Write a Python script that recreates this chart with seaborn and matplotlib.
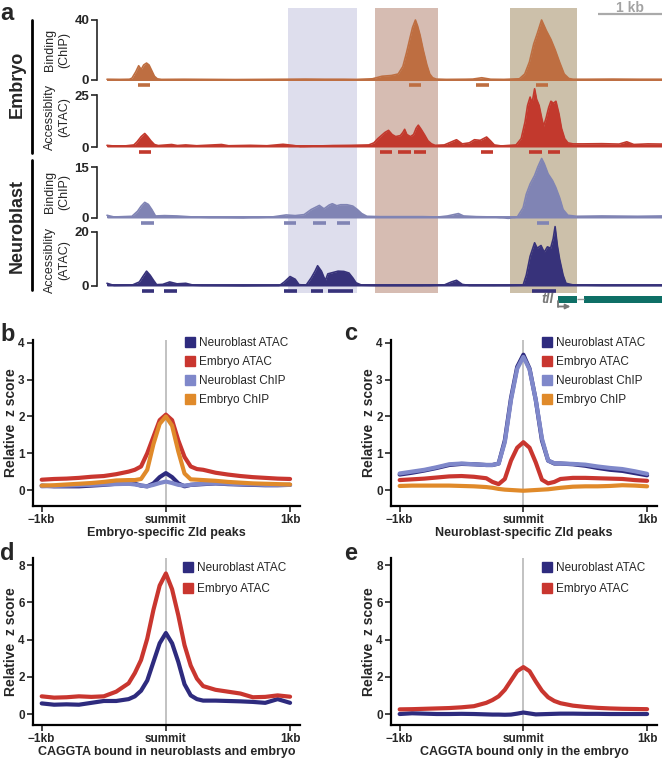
import numpy as np
import pandas as pd
import seaborn as sns
import matplotlib.pyplot as plt
from matplotlib.lines import Line2D
from matplotlib.patches import Rectangle

sns.set_theme(style="ticks")
plt.rcParams['font.family'] = ['Liberation Sans', 'DejaVu Sans']

W, H = 662, 758

# ---------------- panel a : browser tracks (position in kb) ----------------
EMB_CHIP_POS = [0.00, 0.20, 0.35, 0.39, 0.45, 0.495, 0.534, 0.573, 0.618, 0.657,
                0.702, 0.741, 0.786, 0.85, 1.2, 1.6, 2.0, 2.4, 2.8, 3.1,
                3.4, 3.7, 3.9, 4.146, 4.297, 4.443, 4.549, 4.622, 4.678, 4.728,
                4.773, 4.818, 4.852, 4.89, 4.94, 4.997, 5.042, 5.087, 5.143, 5.3,
                5.6, 5.714, 5.854, 5.994, 6.2, 6.442, 6.526, 6.599, 6.666, 6.722,
                6.789, 6.862, 6.935, 7.002, 7.069, 7.142, 7.215, 7.282, 7.5, 7.9,
                8.3, 8.67]
EMB_CHIP_VAL = [0.5, 0.4, 0.5, 1.2, 5.5, 9.5, 7.0, 10.0, 11.3, 10.0,
                6.0, 2.5, 0.8, 0.4, 0.5, 0.4, 0.3, 0.4, 0.5, 0.6,
                0.5, 0.5, 0.4, 0.8, 2.5, 3.0, 4.0, 9.0, 18.0, 27.0,
                35.0, 40.0, 36.0, 30.0, 20.0, 10.0, 4.0, 1.5, 0.6, 0.4,
                0.5, 0.6, 1.5, 0.5, 0.4, 0.8, 4.0, 12.0, 24.0, 31.0,
                40.0, 33.0, 27.0, 20.0, 12.0, 4.0, 1.0, 0.5, 0.5, 0.6,
                0.5, 0.5]

EMB_ATAC_POS = [0.00, 0.10, 0.25, 0.42, 0.47, 0.534, 0.59, 0.635, 0.685, 0.741,
                0.80, 1.01, 1.10, 1.23, 1.40, 1.79, 1.90, 2.24, 2.50, 2.75,
                2.90, 3.03, 3.30, 3.53, 3.81, 4.09, 4.17, 4.23, 4.286, 4.342,
                4.398, 4.454, 4.51, 4.583, 4.622, 4.65, 4.684, 4.74, 4.79, 4.829,
                4.863, 4.908, 4.958, 5.014, 5.07, 5.126, 5.27, 5.46, 5.55, 5.66,
                5.74, 5.83, 5.93, 5.99, 6.05, 6.16, 6.39, 6.47, 6.53, 6.57,
                6.61, 6.64, 6.68, 6.71, 6.75, 6.79, 6.82, 6.86, 6.90, 6.935,
                6.974, 7.013, 7.06, 7.10, 7.15, 7.20, 7.28, 7.45, 7.73, 8.00,
                8.12, 8.23, 8.45, 8.67]
EMB_ATAC_VAL = [0.8, 0.5, 0.4, 1.0, 2.5, 5.0, 6.5, 5.0, 3.0, 1.2,
                0.7, 1.2, 0.7, 1.0, 0.6, 1.2, 0.6, 0.8, 0.6, 1.3,
                0.8, 0.2, 0.5, 0.7, 0.8, 1.0, 2.0, 4.0, 5.5, 7.0,
                8.0, 6.0, 5.0, 5.5, 7.0, 8.5, 6.0, 5.0, 6.0, 9.0,
                10.5, 8.5, 6.0, 3.0, 1.5, 0.8, 1.0, 3.5, 1.5, 2.0,
                3.5, 3.2, 4.8, 3.0, 1.0, 0.5, 1.0, 4.0, 12.0, 20.0,
                24.0, 21.0, 28.0, 23.0, 20.0, 14.0, 10.0, 14.0, 19.0, 22.0,
                21.0, 22.0, 16.0, 9.0, 4.0, 2.0, 1.5, 1.5, 1.6, 1.4,
                2.5, 1.2, 1.5, 1.4]

NB_CHIP_POS = [0.00, 0.11, 0.39, 0.478, 0.534, 0.59, 0.646, 0.70, 0.758, 0.898,
               1.094, 1.346, 1.68, 2.13, 2.58, 2.80, 2.94, 3.08, 3.19, 3.317,
               3.39, 3.47, 3.52, 3.59, 3.65, 3.75, 3.84, 3.91, 3.98, 4.06,
               4.26, 4.65, 4.93, 5.18, 5.32, 5.49, 5.57, 5.77, 6.05, 6.27,
               6.41, 6.50, 6.55, 6.61, 6.68, 6.73, 6.79, 6.83, 6.89, 6.96,
               7.01, 7.07, 7.125, 7.20, 7.34, 7.73, 8.29, 8.67]
NB_CHIP_VAL = [0.8, 0.3, 0.5, 2.0, 3.5, 4.6, 4.0, 2.5, 0.6, 0.7,
               0.6, 0.3, 0.1, 0.0, 0.3, 0.9, 0.7, 1.0, 2.5, 3.7,
               2.7, 3.8, 4.2, 3.6, 3.9, 3.9, 3.5, 2.5, 1.3, 0.5,
               0.4, 0.4, 0.4, 0.3, 0.6, 1.3, 0.6, 0.4, 0.3, -0.1,
               0.3, 3.0, 7.0, 10.0, 12.5, 15.0, 17.5, 16.0, 13.0, 11.0,
               9.0, 6.0, 2.5, 0.8, 0.5, 0.6, 0.5, 0.6]

NB_ATAC_POS = [0.00, 0.11, 0.39, 0.506, 0.56, 0.618, 0.674, 0.73, 0.775, 0.87,
               0.98, 1.094, 1.23, 1.35, 1.57, 2.13, 2.69, 2.77, 2.86, 2.94,
               3.00, 3.11, 3.19, 3.25, 3.29, 3.35, 3.41, 3.45, 3.53, 3.61,
               3.70, 3.78, 3.84, 3.89, 3.98, 4.37, 4.93, 5.27, 5.38, 5.46,
               5.55, 5.66, 6.05, 6.50, 6.55, 6.61, 6.68, 6.72, 6.78, 6.83,
               6.88, 6.93, 6.97, 7.00, 7.035, 7.07, 7.125, 7.17, 7.28, 7.73,
               8.67]
NB_ATAC_VAL = [1.0, 0.2, 0.3, 1.5, 3.5, 5.5, 4.0, 2.0, 0.5, 0.6,
               1.5, 0.8, 1.0, 0.3, 0.1, 0.0, 0.1, 1.5, 3.5, 2.5,
               0.5, 0.3, 3.0, 5.5, 7.5, 5.5, 2.0, 4.5, 5.0, 5.5,
               5.4, 4.8, 3.0, 1.2, 0.3, 0.1, 0.1, 0.4, 1.5, 2.1,
               0.6, 0.2, 0.1, 0.3, 4.0, 11.0, 16.0, 14.0, 15.0, 12.5,
               14.5, 14.0, 17.5, 22.0, 15.0, 10.0, 4.0, 1.0, 0.4, 0.2,
               0.2]

# called peaks (start, end) in kb
EMB_CHIP_PEAKS = [(0.478, 0.674), (4.717, 4.913), (5.77, 5.966), (6.694, 6.89)]
EMB_ATAC_PEAKS = [(0.495, 0.69), (4.26, 4.45), (4.55, 4.75), (4.79, 4.99),
                  (5.84, 6.03), (6.60, 6.79), (6.89, 7.07)]
NB_CHIP_PEAKS = [(0.534, 0.73), (2.76, 2.96), (3.22, 3.42), (3.60, 3.79), (6.71, 6.90)]
NB_ATAC_PEAKS = [(0.545, 0.74), (0.898, 1.088), (2.76, 2.97), (3.18, 3.38),
                 (3.45, 3.84), (6.64, 7.02)]

HIGHLIGHT_START = [2.83, 4.19, 6.30]
HIGHLIGHT_END = [3.91, 5.17, 7.34]
HIGHLIGHT_COLORS = ['#DEDEED', '#D6BCB2', '#CCC0AA']

TLL_EXONS = [(7.05, 7.34), (7.45, 8.67)]
REGION_END = 8.67
SCALE_KB = 1.0

# ---------------- panels b-e : meta profiles ----------------
POS = [-1.0, -0.9, -0.8, -0.7, -0.6, -0.5, -0.4, -0.3, -0.25, -0.2, -0.15, -0.1, -0.05,
       0.0, 0.05, 0.1, 0.15, 0.2, 0.25, 0.3, 0.4, 0.5, 0.6, 0.7, 0.8, 0.9, 1.0]

B_NB_ATAC = [0.12, 0.10, 0.10, 0.10, 0.12, 0.14, 0.17, 0.18, 0.17, 0.12, 0.10, 0.18, 0.35,
             0.46, 0.35, 0.18, 0.10, 0.14, 0.15, 0.16, 0.18, 0.16, 0.15, 0.14, 0.13, 0.13, 0.14]
B_EMB_ATAC = [0.28, 0.30, 0.31, 0.33, 0.36, 0.38, 0.43, 0.50, 0.55, 0.64, 1.00, 1.45, 1.90,
              2.05, 1.90, 1.35, 0.90, 0.64, 0.57, 0.55, 0.47, 0.42, 0.38, 0.35, 0.33, 0.31, 0.30]
B_NB_CHIP = [0.10, 0.11, 0.12, 0.13, 0.14, 0.15, 0.16, 0.17, 0.15, 0.12, 0.10, 0.14, 0.19,
             0.23, 0.19, 0.14, 0.12, 0.14, 0.16, 0.17, 0.18, 0.17, 0.16, 0.15, 0.14, 0.14, 0.14]
B_EMB_CHIP = [0.12, 0.13, 0.15, 0.17, 0.19, 0.22, 0.26, 0.27, 0.27, 0.30, 0.55, 1.25, 1.80,
              2.00, 1.75, 1.05, 0.45, 0.29, 0.28, 0.27, 0.25, 0.22, 0.20, 0.18, 0.17, 0.16, 0.15]

C_NB_ATAC = [0.42, 0.47, 0.53, 0.60, 0.68, 0.71, 0.70, 0.68, 0.68, 0.72, 1.35, 2.50, 3.35,
             3.68, 3.30, 2.45, 1.35, 0.80, 0.72, 0.72, 0.70, 0.66, 0.60, 0.55, 0.52, 0.46, 0.40]
C_EMB_ATAC = [0.27, 0.29, 0.31, 0.34, 0.37, 0.38, 0.36, 0.32, 0.22, 0.16, 0.30, 0.80, 1.15,
              1.30, 1.15, 0.75, 0.28, 0.18, 0.22, 0.30, 0.33, 0.33, 0.32, 0.31, 0.30, 0.27, 0.25]
C_NB_CHIP = [0.45, 0.50, 0.55, 0.62, 0.70, 0.72, 0.70, 0.68, 0.68, 0.72, 1.30, 2.45, 3.30,
             3.62, 3.28, 2.45, 1.40, 0.80, 0.73, 0.72, 0.71, 0.69, 0.64, 0.60, 0.57, 0.51, 0.44]
C_EMB_CHIP = [0.11, 0.12, 0.12, 0.12, 0.12, 0.11, 0.10, 0.08, 0.06, 0.03, 0.01, 0.00, -0.01,
              -0.02, -0.01, 0.00, 0.01, 0.02, 0.04, 0.06, 0.09, 0.10, 0.10, 0.11, 0.13, 0.12, 0.10]

D_NB_ATAC = [0.57, 0.50, 0.52, 0.50, 0.60, 0.70, 0.70, 0.80, 0.95, 1.25, 1.80, 2.80, 3.80,
             4.35, 3.80, 2.80, 1.60, 1.00, 0.80, 0.72, 0.72, 0.70, 0.68, 0.65, 0.60, 0.80, 0.60]
D_EMB_ATAC = [0.95, 0.88, 0.90, 0.95, 0.92, 0.95, 1.20, 1.65, 2.20, 2.90, 4.05, 5.60, 6.90,
              7.55, 6.70, 5.30, 3.70, 2.60, 1.90, 1.50, 1.30, 1.20, 1.10, 0.90, 0.92, 1.00, 0.93]

E_NB_ATAC = [0.00, 0.04, 0.02, 0.00, 0.00, 0.01, 0.00, -0.02, -0.03, -0.03, -0.04, -0.03, 0.02,
             0.08, 0.03, -0.02, -0.01, 0.00, 0.01, 0.02, 0.02, 0.01, 0.01, 0.00, 0.00, 0.00, 0.00]
E_EMB_ATAC = [0.25, 0.26, 0.28, 0.30, 0.32, 0.36, 0.42, 0.60, 0.75, 0.95, 1.30, 1.80, 2.30,
              2.52, 2.30, 1.75, 1.25, 0.90, 0.70, 0.58, 0.45, 0.38, 0.33, 0.30, 0.28, 0.27, 0.26]

PROFILE_COLORS = {'Neuroblast ATAC': '#2E2B7E', 'Embryo ATAC': '#C9362F',
                  'Neuroblast ChIP': '#7F88CA', 'Embryo ChIP': '#E08A2A'}
TRACK_COLORS = {'emb_chip': '#BE6E41', 'emb_atac': '#C2392D',
                'nb_chip': '#8084B4', 'nb_atac': '#37327A'}


def fx(px):
    return px / W


def fy(px):
    return 1 - px / H


fig = plt.figure(figsize=(W / 100, H / 100), dpi=100)

# background axes for the highlighted regions, gene model and scale bar (y in pixels)
ax_bg = fig.add_axes([fx(97), fy(312), fx(662) - fx(97), fy(5) - fy(312)])
ax_bg.set_xlim(-0.156, REGION_END)
ax_bg.set_ylim(312, 5)
ax_bg.axis('off')
for s, e, c in zip(HIGHLIGHT_START, HIGHLIGHT_END, HIGHLIGHT_COLORS):
    ax_bg.fill_between([s, e], 8, 293, color=c, lw=0)

# gene model
for s, e in TLL_EXONS:
    ax_bg.add_patch(Rectangle((s, 296), e - s, 6.5, color='#0E6F66', lw=0))
ax_bg.hlines(299.2, TLL_EXONS[0][1], TLL_EXONS[1][0], color='#9a9a9a', lw=1)
ax_bg.plot([TLL_EXONS[0][0], TLL_EXONS[0][0]], [301, 306.5], color='#777777', lw=1.3)
ax_bg.annotate('', xy=(TLL_EXONS[0][0] + 0.19, 306.5), xytext=(TLL_EXONS[0][0], 306.5),
               arrowprops=dict(arrowstyle='-|>', color='#777777', lw=1.3, mutation_scale=7,
                               shrinkA=0, shrinkB=0))
ax_bg.text(TLL_EXONS[0][0] - 0.07, 299, 'tll', ha='right', va='center', style='italic',
           weight='bold', color='#7a7a7a', fontsize=10)

# scale bar
ax_bg.hlines(14, REGION_END - SCALE_KB, REGION_END, color='#aaaaaa', lw=1.6)
ax_bg.text(REGION_END - SCALE_KB / 2, 7.5, '1 kb', ha='center', va='center',
           color='#a3a3a3', fontsize=10, weight='bold')


def add_track(pos, val, peaks, color, vmax, px_top, px_bottom, px_zero, px_max):
    ppu = (px_zero - px_max) / vmax
    ax = fig.add_axes([fx(97), fy(px_bottom), fx(662) - fx(97), fy(px_top) - fy(px_bottom)])
    ax.patch.set_alpha(0)
    ax.set_xlim(-0.156, REGION_END)
    ax.set_ylim(-(px_bottom - px_zero) / ppu, (px_zero - px_top) / ppu)
    ax.fill_between(pos, 0, val, color=color, lw=0)
    ax.plot(pos, val, color=color, lw=1.2)
    ax.hlines(0.25, pos[0], pos[-1], color=color, lw=1.4)
    for s, e in peaks:
        ax.hlines(-5 / ppu, s, e, color=color, lw=2.6)
    for side in ['top', 'right', 'bottom']:
        ax.spines[side].set_visible(False)
    ax.spines['left'].set_bounds(0, vmax)
    ax.spines['left'].set_linewidth(1.2)
    ax.set_xticks([])
    ax.set_yticks([0, vmax])
    ax.tick_params(axis='y', length=4, width=1.2, pad=1.5)
    for lab in ax.get_yticklabels():
        lab.set_fontweight('bold')
        lab.set_fontsize(9.5)
    return ax


add_track(EMB_CHIP_POS, EMB_CHIP_VAL, EMB_CHIP_PEAKS, TRACK_COLORS['emb_chip'], 40, 14, 90, 80, 20)
add_track(EMB_ATAC_POS, EMB_ATAC_VAL, EMB_ATAC_PEAKS, TRACK_COLORS['emb_atac'], 25, 86, 157, 147, 95)
add_track(NB_CHIP_POS, NB_CHIP_VAL, NB_CHIP_PEAKS, TRACK_COLORS['nb_chip'], 15, 155, 227, 218, 167)
add_track(NB_ATAC_POS, NB_ATAC_VAL, NB_ATAC_PEAKS, TRACK_COLORS['nb_atac'], 20, 224, 295, 286, 232)

# left side labels for panel a
fig.text(fx(17), fy(84), 'Embryo', rotation=90, ha='center', va='center', fontsize=13, weight='bold')
fig.text(fx(17), fy(226), 'Neuroblast', rotation=90, ha='center', va='center', fontsize=13, weight='bold')
fig.add_artist(Line2D([fx(32), fx(32)], [fy(20), fy(153)], color='black', lw=2))
fig.add_artist(Line2D([fx(32), fx(32)], [fy(160), fy(290)], color='black', lw=2))
for yc, txt in [(50, 'Binding\n(ChIP)'), (117, 'Accessiblity\n(ATAC)'),
                (192, 'Binding\n(ChIP)'), (260, 'Accessiblity\n(ATAC)')]:
    fig.text(fx(57), fy(yc), txt, rotation=90, ha='center', va='center', fontsize=9,
             linespacing=1.3, multialignment='center')


def profile(rect, series, ylim, yticks, xlabel, legend_xy, spacing):
    ax = fig.add_axes([fx(rect[0]), fy(rect[3]), fx(rect[2]) - fx(rect[0]), fy(rect[1]) - fy(rect[3])])
    names = list(series.keys())
    df = pd.DataFrame({'pos': POS * len(names),
                       'z': [v for n in names for v in series[n]],
                       'track': [n for n in names for _ in POS]})
    ax.axvline(0, color='#bdbdbd', lw=1.3, zorder=0)
    sns.lineplot(data=df, x='pos', y='z', hue='track', hue_order=names, palette=PROFILE_COLORS,
                 lw=3, legend=False, ax=ax, errorbar=None, solid_capstyle='round',
                 solid_joinstyle='round')
    ax.set_xlim(-1.07, 1.08)
    ax.set_ylim(*ylim)
    ax.set_xticks([-1, 0, 1])
    ax.set_xticklabels(['\u22121kb', 'summit', '1kb'])
    ax.set_yticks(yticks)
    ax.set_xlabel(xlabel, fontsize=9, weight='bold', labelpad=0.5)
    ax.set_ylabel('Relative  z score', fontsize=10, weight='bold', labelpad=0)
    for side in ['top', 'right']:
        ax.spines[side].set_visible(False)
    for side in ['left', 'bottom']:
        ax.spines[side].set_linewidth(1.6)
        ax.spines[side].set_color('black')
    ax.tick_params(length=4, width=1.2, pad=2, labelsize=8.5)
    for lab in ax.get_xticklabels() + ax.get_yticklabels():
        lab.set_fontweight('bold')
    handles = [Line2D([], [], marker='s', ls='', ms=7.5, color=PROFILE_COLORS[n]) for n in names]
    ax.legend(handles, names, loc='upper left', bbox_to_anchor=(fx(legend_xy[0]), fy(legend_xy[1])),
              bbox_transform=fig.transFigure, frameon=False, fontsize=8.5, borderpad=0,
              borderaxespad=0, handletextpad=0.3, handlelength=0.9, labelspacing=spacing)
    return ax


profile((33, 340, 300, 506),
        {'Neuroblast ATAC': B_NB_ATAC, 'Embryo ATAC': B_EMB_ATAC,
         'Neuroblast ChIP': B_NB_CHIP, 'Embryo ChIP': B_EMB_CHIP},
        (-0.435, 4.08), [0, 1, 2, 3, 4], 'Embryo-specific Zld peaks', (185, 337), 0.6)
profile((391, 340, 657, 506),
        {'Neuroblast ATAC': C_NB_ATAC, 'Embryo ATAC': C_EMB_ATAC,
         'Neuroblast ChIP': C_NB_CHIP, 'Embryo ChIP': C_EMB_CHIP},
        (-0.435, 4.08), [0, 1, 2, 3, 4], 'Neuroblast-specific Zld peaks', (542, 337), 0.6)
profile((33, 558, 300, 725),
        {'Neuroblast ATAC': D_NB_ATAC, 'Embryo ATAC': D_EMB_ATAC},
        (-0.59, 8.38), [0, 2, 4, 6, 8], 'CAGGTA bound in neuroblasts and embryo', (183, 562), 0.8)
profile((391, 558, 657, 725),
        {'Neuroblast ATAC': E_NB_ATAC, 'Embryo ATAC': E_EMB_ATAC},
        (-0.59, 8.38), [0, 2, 4, 6, 8], 'CAGGTA bound only in the embryo', (542, 562), 0.8)

# panel letters
for x, y, letter in [(0, 20, 'a'), (0, 341, 'b'), (344, 340, 'c'), (0, 560, 'd'), (344, 560, 'e')]:
    fig.text(fx(x), fy(y), letter, ha='left', va='baseline', fontsize=17, weight='bold')

plt.savefig('out.png', dpi=100)
